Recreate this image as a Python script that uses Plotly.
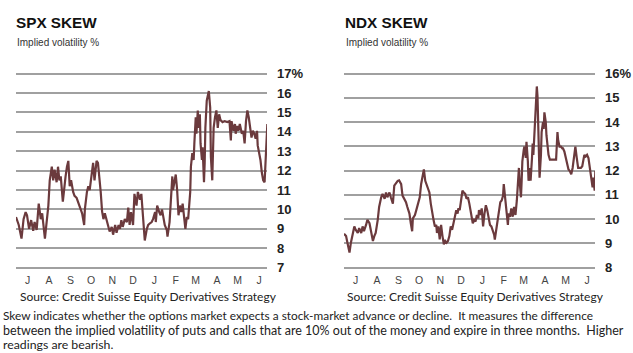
import pandas as pd
import plotly.graph_objects as go

START = "2007-06-28"

spx_days = [0,4,8,11,14,16,19,22,25,27,30,33,36,38,42,45,47,49,52,54,56,59,61,63,65,68,70,72,74,76,78,80,83,85,88,91,94,96,99,100,103,105,107,109,112,114,117,119,121,123,125,127,129,132,134,136,139,141,144,146,149,151,153,155,158,161,163,165,167,170,172,175,177,180,182,185,187,190,192,195,197,199,202,203,205,208,210,212,214,216,219,220,223,225,227,228,230,232,234,236,238,240,242,244,246,248,250,253,254,256,258,259,261,262,264,265,267,268,270,271,273,274,275,277,279,280,282,283,285,286,287,289,291,293,295,297,300,303,307,310,312,313,316,318,319,321,323,325,328,330,332,334,336,338,340,342,344,346,348,350,351,353,355,357,359,361,362,363,365]
spx_vals = [9.61,9.2,8.5,9.5,9.86,9.7,9.0,9.45,8.9,9.35,8.94,10.3,9.5,9.8,8.5,9.5,10.2,11.5,12.2,11.5,12.05,11.4,12.2,11.5,11.7,10.4,11.2,11.7,12.2,12.5,11.2,11.5,10.9,10.7,10.6,10.3,9.9,9.8,9.2,10.0,10.9,11.2,11.0,11.5,12.4,11.5,12.5,12.4,11.7,10.9,9.9,9.5,9.8,9.35,9.2,8.86,9.1,8.7,9.2,8.8,9.2,9.0,9.45,9.1,9.5,9.35,10.1,9.2,9.86,9.2,10.8,10.2,10.9,10.5,10.8,9.6,8.4,9.0,9.2,9.3,9.35,9.5,9.86,9.35,10.2,9.86,9.7,10.0,9.5,9.2,8.94,8.6,9.35,10.5,11.7,11.0,11.5,11.8,11.0,9.7,10.2,9.86,10.3,9.5,9.0,9.6,9.5,10.9,12.2,12.9,12.55,13.4,14.75,13.9,15.1,14.2,14.9,13.4,12.55,13.2,11.4,12.4,14.2,15.6,16.0,16.1,15.25,12.7,11.5,13.2,14.2,14.75,15.1,14.2,14.9,14.6,14.5,14.55,14.5,14.55,13.55,14.55,14.05,14.4,13.9,14.3,14.05,14.4,13.9,14.05,13.4,14.55,15.1,14.75,14.05,13.7,14.05,13.9,13.65,14.05,13.3,12.9,12.55,11.9,11.5,11.4,12.4,12.7,14.4]

ndx_days = [0,3,5,8,10,13,15,17,20,22,25,27,29,32,34,37,39,42,44,46,49,51,54,56,59,61,63,66,68,71,73,76,78,80,83,85,88,90,92,95,97,99,100,103,105,107,110,112,114,116,118,120,122,124,126,128,130,132,134,135,137,139,141,143,145,147,149,151,153,155,157,159,161,163,165,166,168,170,172,174,176,178,180,182,185,187,189,191,193,195,196,198,200,202,204,206,208,210,212,214,216,218,219,221,223,225,227,229,231,232,234,236,238,239,241,243,245,247,249,251,252,254,255,257,258,259,261,262,264,265,267,268,270,271,273,274,275,277,278,280,281,283,284,286,287,289,290,291,293,294,296,297,299,302,305,308,310,311,313,315,317,318,320,322,324,326,328,330,332,334,336,338,340,342,344,346,348,349,351,353,355,357,359,361,362,364,365]
ndx_vals = [9.4,9.3,9.03,8.62,9.03,9.5,9.7,9.56,9.43,9.63,9.43,9.7,9.5,9.76,9.97,9.83,9.5,9.1,9.3,9.43,9.97,10.5,10.9,11.04,10.84,11.1,10.9,11.1,10.9,10.64,11.38,11.5,11.58,11.6,11.44,10.97,10.84,10.7,10.5,10.23,9.83,9.5,10.03,10.17,10.37,10.57,10.9,11.44,11.85,12.05,11.58,11.44,11.24,11.1,10.64,10.23,9.97,9.7,9.76,9.43,9.7,9.16,9.76,9.3,8.96,9.1,9.03,9.1,9.3,9.7,9.56,9.83,10.1,10.37,10.23,10.44,10.37,10.77,11.17,11.1,11.04,10.84,10.9,10.64,10.23,9.83,9.97,9.9,10.17,10.03,10.37,10.17,10.44,9.7,10.23,10.57,10.37,9.97,9.76,9.7,9.56,9.36,9.16,9.56,9.97,10.37,10.7,10.77,10.97,11.44,10.77,10.37,9.76,10.23,10.1,10.44,10.1,10.5,10.17,10.77,11.44,12.11,11.58,10.9,11.58,12.38,12.85,12.99,12.52,13.19,12.38,11.58,12.11,11.58,12.52,13.12,12.65,13.72,14.53,15.47,15.07,13.19,11.71,12.65,13.59,14.0,13.72,14.4,14.0,13.46,12.92,12.65,12.45,12.45,12.45,12.45,13.59,13.25,12.99,12.99,12.92,12.92,12.79,12.58,12.25,12.05,11.98,11.85,12.11,12.65,12.99,12.52,12.11,12.11,12.11,12.18,12.45,12.65,12.58,12.65,12.52,12.05,11.58,11.31,11.71,11.17,11.98]

month_labels = ["J", "A", "S", "O", "N", "D", "J", "F", "M", "A", "M", "J"]
month_ticks = ["2007-07-15", "2007-08-15", "2007-09-15", "2007-10-15", "2007-11-15", "2007-12-15",
               "2008-01-15", "2008-02-15", "2008-03-15", "2008-04-15", "2008-05-15", "2008-06-15"]
spx_ticks = list(range(7, 18))
spx_ticktext = [str(v) for v in spx_ticks[:-1]] + ["17%"]
ndx_ticks = list(range(8, 17))
ndx_ticktext = [str(v) for v in ndx_ticks[:-1]] + ["16%"]

titles = ["SPX SKEW", "NDX SKEW"]
subtitle = "Implied volatility %"
source = "Source: Credit Suisse Equity Derivatives Strategy"
footnote = [
    "Skew indicates whether the options market expects a stock-market advance or decline.\u00a0 It measures the difference",
    "between the implied volatility of puts and calls that are 10% out of the money and expire in three months.\u00a0 Higher",
    "readings are bearish.",
]

start = pd.Timestamp(START)
spx_x = start + pd.to_timedelta(spx_days, unit="D")
ndx_x = start + pd.to_timedelta(ndx_days, unit="D")
x_range = [start, start + pd.Timedelta(hours=364.5 * 24)]

W, H = 633, 353
LINE = "#6b3a3d"
GRID = "#a0a0a0"
PAD = 0.2  # padding (in value units) so the edge gridlines are drawn

fig = go.Figure()
fig.add_trace(go.Scatter(x=spx_x, y=spx_vals, mode="lines", line=dict(color=LINE, width=2.2),
                         xaxis="x", yaxis="y", showlegend=False))
fig.add_trace(go.Scatter(x=ndx_x, y=ndx_vals, mode="lines", line=dict(color=LINE, width=2.2),
                         xaxis="x2", yaxis="y2", showlegend=False))

# top gridline at y=72 px, bottom gridline at y=270 px
spx_ppu = (270 - 72) / 10.0
ndx_ppu = (270 - 72) / 8.0
spx_dom = [(H - 270 - PAD * spx_ppu) / H, (H - 72 + PAD * spx_ppu) / H]
ndx_dom = [(H - 270 - PAD * ndx_ppu) / H, (H - 72 + PAD * ndx_ppu) / H]

xfont = dict(family="Liberation Sans", size=10.5, color="#444444")
yfont = dict(family="Liberation Sans", size=13, color="#222222", weight="bold")

common_x = dict(type="date", range=x_range, showgrid=False, zeroline=False, showline=False,
                ticks="", tickmode="array", tickvals=month_ticks, ticktext=month_labels,
                tickfont=xfont, fixedrange=True)
common_y = dict(side="right", showgrid=True, gridcolor=GRID, gridwidth=1.5, zeroline=False,
                showline=False, ticks="", tickmode="array", tickfont=yfont,
                ticklabelstandoff=9, fixedrange=True)

fig.update_layout(
    width=W, height=H, margin=dict(l=0, r=0, t=0, b=0),
    paper_bgcolor="white", plot_bgcolor="white",
    xaxis=dict(domain=[16 / W, 267 / W], anchor="y", ticklabelstandoff=1, **common_x),
    yaxis=dict(domain=spx_dom, anchor="x", range=[7 - PAD, 17 + PAD], tickvals=spx_ticks,
               ticktext=spx_ticktext, **common_y),
    xaxis2=dict(domain=[344 / W, 595 / W], anchor="y2", ticklabelstandoff=0, **common_x),
    yaxis2=dict(domain=ndx_dom, anchor="x2", range=[8 - PAD, 16 + PAD], tickvals=ndx_ticks,
                ticktext=ndx_ticktext, **common_y),
)

def ann(text, xpx, ypx, size, color="#222222", weight="normal", family="Liberation Sans"):
    fig.add_annotation(text=text, x=xpx / W, y=(H - ypx) / H, xref="paper", yref="paper",
                       xanchor="left", yanchor="middle", showarrow=False, align="left",
                       borderpad=0,
                       font=dict(family=family, size=size, color=color, weight=weight))

ann(titles[0], 15, 20, 15.3, color="#111111", weight="bold")
ann(titles[1], 344, 20, 15.3, color="#111111", weight="bold")
ann(subtitle, 16, 40, 10, color="#333333")
ann(subtitle, 345, 40, 10, color="#333333")
ann(source, 19, 299, 12, color="#222222", family="Lato")
ann(source, 346, 299, 12, color="#222222", family="Lato")
foot_sizes = [11.85, 12.5, 12.3]
foot_y = [318.5, 334, 348.5]
for line, size, ypx in zip(footnote, foot_sizes, foot_y):
    ann(line, 2, ypx, size, color="#222222", family="Lato")

fig.write_html("out.html")
